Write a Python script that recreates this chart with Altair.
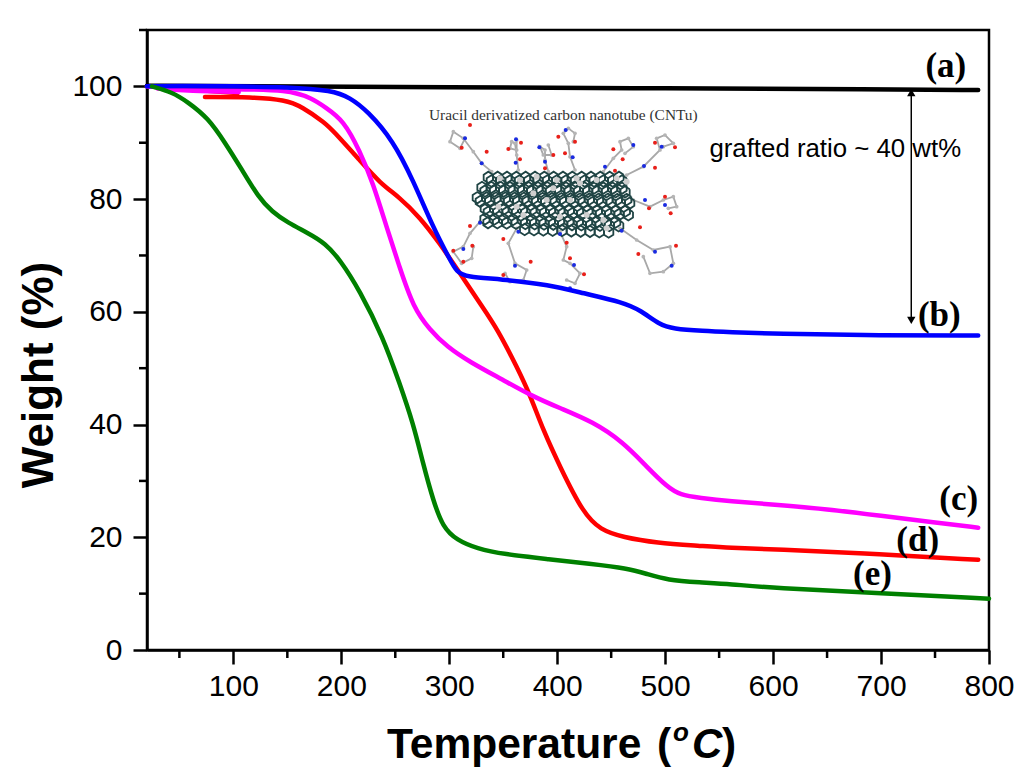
import altair as alt
import pandas as pd

# ---- curve data (Temperature, Weight) ----
a_t = [20, 100, 300, 500, 700, 790]
a_w = [100.1, 100.05, 99.85, 99.65, 99.45, 99.35]
b_t = [20, 50, 100, 150, 192, 208, 224, 248, 266.6, 285, 300, 307, 316, 347, 393, 424, 461, 477, 495, 507, 535, 560, 600, 700, 790]
b_w = [100, 100.1, 100, 99.9, 99.3, 98, 95.7, 90.4, 83.3, 75, 69.5, 67, 66.2, 65.8, 64.8, 63.3, 61.7, 60.3, 57.7, 57, 56.6, 56.4, 56.1, 55.8, 55.8]
c_t = [20, 50, 100, 150.6, 172.8, 185, 202, 217, 229.5, 242, 254, 266.6, 282, 298, 319, 350, 375, 402.6, 433, 461, 483, 502, 514, 532, 560, 600, 650, 700, 750, 790]
c_w = [100, 99.6, 99.5, 99.4, 97.9, 96.3, 94, 88.6, 82.8, 75, 67.9, 60.8, 56.8, 53.8, 51.1, 47.9, 45.2, 42.9, 40.5, 36.9, 32.5, 28.9, 27.5, 27, 26.4, 25.8, 25, 23.8, 22.6, 21.7]
c0_t = [30, 60, 105]
c0_w = [99.6, 99.2, 99]
d_t = [73.7, 117, 148, 163.6, 185, 192, 217, 236, 254, 272.6, 291, 310, 331, 345, 362.7, 375, 387, 402.6, 424, 440, 461, 492, 532, 560, 600, 700, 790]
d_w = [98.1, 98.1, 97.6, 96.4, 93.5, 92.2, 86.9, 82.8, 80.3, 76.8, 72.2, 66.8, 60.8, 56.8, 50.2, 45.2, 39, 32.5, 24.3, 21.3, 20, 19, 18.5, 18.1, 17.9, 17, 16]
d0_t = [20, 60, 104]
d0_w = [100, 99.5, 98.8]
e_t = [24.6, 43, 58, 76.5, 92, 108, 123, 136, 150.6, 169, 185, 199, 217, 238.6, 254, 266.6, 275.7, 285, 294, 307, 325.7, 350, 393, 430, 465, 483, 502, 532, 560, 600, 700, 800]
e_w = [100, 99, 97.2, 94.4, 90.1, 85.2, 80.4, 77.7, 75.8, 74, 72.2, 69.2, 63.8, 55.5, 47.3, 40.2, 33.1, 26.6, 21.8, 19.5, 18, 17, 16.1, 15.3, 14.5, 13.5, 12.4, 12, 11.7, 11, 10.1, 9.1]

series = [("d0", d0_t, d0_w, "#ff0000"), ("d", d_t, d_w, "#ff0000"), ("c0", c0_t, c0_w, "#ff00ff"),
          ("c", c_t, c_w, "#ff00ff"), ("a", a_t, a_w, "#000000"), ("b", b_t, b_w, "#0000ff"),
          ("e", e_t, e_w, "#008000")]

x_major = [100, 200, 300, 400, 500, 600, 700, 800]
x_minor = [50, 150, 250, 350, 450, 550, 650, 750]
y_major = [0, 20, 40, 60, 80, 100]
y_minor = [10, 30, 50, 70, 90, 110]

# ---- geometry of the data space ----
W, H = 842, 620
xdom, ydom = [20, 800], [0, 110]
xs = alt.Scale(domain=xdom, nice=False, zero=False)
ys = alt.Scale(domain=ydom, nice=False, zero=False)

# inset is sketched in reference-zoom units and converted to data units
def T(zx):
    return ((420 + zx / 3) - 147) / W * 780 + 20
def Y(zy):
    return (650 - (100 + zy / 3)) / H * 110

chains = [
    [(215,215),(185,190),(160,155),(130,115),(100,95),(90,125),(120,145),(135,115)],
    [(295,210),(290,165),(285,130),(275,125),(270,145),(290,150),(290,120)],
    [(385,215),(375,180),(375,150),(360,140),(370,165),(395,165),(385,135)],
    [(465,210),(450,170),(445,130),(430,100),(445,85),(465,100),(460,125)],
    [(550,215),(580,175),(605,150),(600,125),(625,115),(640,140),(615,160)],
    [(620,225),(670,200),(720,150),(710,115),(735,105),(760,130),(730,140)],
    [(640,300),(690,320),(730,300),(760,290),(770,320),(745,325)],
    [(600,385),(650,420),(700,450),(750,440),(760,490),(730,515),(690,520),(670,470)],
    [(420,395),(440,440),(430,480),(450,490),(480,520),(465,550),(440,540)],
    [(290,385),(265,430),(285,490),(320,510),(310,540),(270,545),(255,520)],
    [(180,365),(150,400),(130,440),(100,455),(125,490),(155,475),(160,440)],
]
red_atoms = [(150,75),(125,143),(200,155),(265,147),(303,128),(300,178),(400,165),(375,205),(415,110),(465,125),
             (435,160),(580,148),(608,178),(585,212),(705,128),(765,142),(705,203),(687,325),(735,290),(752,340),
             (660,382),(655,462),(768,437),(440,428),(450,475),(492,523),(250,417),(332,485),(250,525),(150,378),
             (100,452),(157,437),(130,485)]
blue_atoms = [(185,190),(135,115),(288,118),(287,188),(358,142),(375,185),(437,90),(458,172),(555,200),(640,135),
              (672,198),(725,140),(675,300),(735,315),(605,392),(705,455),(755,497),(420,402),(462,495),(450,565),
              (295,395),(285,497),(180,368),(130,447)]

# nanotube wall: two hand-placed overlapping patches of cells (illustration only)
hex_shape = [(14,-8),(14,8),(0,17),(-14,8),(-14,-8),(0,-17),(14,-8)]
tube_rows = [(232, 205, 610), (262, 172, 625), (293, 172, 630), (325, 182, 625), (356, 195, 600), (384, 300, 590)]
hex_rows = []
k = 0
for shift in (0, 1):
    for r, (zy, z0, z1) in enumerate(tube_rows):
        if shift and r == 5:
            continue
        zx = z0 + (14 if r % 2 else 0) + 9 * shift
        while zx <= z1:
            tilt = (zx - 165) * 0.03 * (r / 5) + 11 * shift
            hex_rows += [{"id": k, "o": i, "T": T(zx + dx), "W": Y(zy + tilt + dy)} for i, (dx, dy) in enumerate(hex_shape)]
            k += 1
            zx += 28
hex_df = pd.DataFrame(hex_rows)
light_df = pd.DataFrame([{"T": T(zx), "W": Y(zy)} for zx, zy in
    [(240,235),(300,240),(350,230),(410,240),(470,235),(530,240),(590,235),(290,320),(400,265),(420,350),
     (500,345),(550,360),(310,345),(235,320),(480,250),(380,300),(560,385),(620,245),(340,280),(450,300)]])

chain_rows = []
for i, ch in enumerate(chains):
    chain_rows += [{"id": i, "o": j, "T": T(x), "W": Y(y)} for j, (x, y) in enumerate(ch)]
chain_df = pd.DataFrame(chain_rows)

def axis(values, pad):
    return alt.Axis(values=values, tickSize=14, tickWidth=2.5, tickColor="black", domainColor="black", domainWidth=2.5,
                    labelFontSize=30, labelFont="Liberation Sans", labelColor="black", labelPadding=pad, grid=False,
                    format="d", labelFlush=False, labelOverlap=False)

X = alt.X("T:Q", scale=xs, title=None, axis=axis(x_major, 7))
Yc = alt.Y("W:Q", scale=ys, title=None, axis=axis(y_major, 11))

layers = []
layers.append(alt.Chart(chain_df).mark_line(color="#a8a8a8", strokeWidth=1.8).encode(X, Yc, detail="id:N", order="o:Q"))
layers.append(alt.Chart(chain_df).mark_circle(color="#b5b5b5", opacity=1, size=14).encode(X, Yc))
layers.append(alt.Chart(hex_df).mark_line(color="#1f4444", strokeWidth=1.8).encode(X, Yc, detail="id:N", order="o:Q"))
layers.append(alt.Chart(light_df).mark_circle(color="#cfcfcf", opacity=1, size=36).encode(X, Yc))
layers.append(alt.Chart(pd.DataFrame([{"T": T(x), "W": Y(y)} for x, y in red_atoms])).mark_circle(color="#e8201a", opacity=1, size=16).encode(X, Yc))
layers.append(alt.Chart(pd.DataFrame([{"T": T(x), "W": Y(y)} for x, y in blue_atoms])).mark_circle(color="#1a2be0", opacity=1, size=16).encode(X, Yc))

# minor ticks
layers.append(alt.Chart(pd.DataFrame({"T": x_minor})).mark_rule(color="black", strokeWidth=2.5).encode(
    X, y=alt.value(H), y2=alt.value(H + 8)))
layers.append(alt.Chart(pd.DataFrame({"W": y_minor})).mark_rule(color="black", strokeWidth=2.5).encode(
    Yc, x=alt.value(0), x2=alt.value(-8)))

# curves
for name, t, w, col in series:
    layers.append(alt.Chart(pd.DataFrame({"T": t, "W": w})).mark_line(
        color=col, strokeWidth=4.5, interpolate="basis", strokeCap="round").encode(X, Yc))

# double arrow
arrow_t, arrow_top, arrow_bot = 728, 98.9, 58.5
layers.append(alt.Chart(pd.DataFrame({"T": [arrow_t], "W": [arrow_top], "W2": [arrow_bot]})).mark_rule(color="black", strokeWidth=1.5).encode(
    X, Yc, y2="W2:Q"))
layers.append(alt.Chart(pd.DataFrame({"T": [arrow_t], "W": [arrow_top]})).mark_point(shape="triangle-up", filled=True, color="black", size=70, opacity=1).encode(X, Yc))
layers.append(alt.Chart(pd.DataFrame({"T": [arrow_t], "W": [arrow_bot]})).mark_point(shape="triangle-down", filled=True, color="black", size=70, opacity=1).encode(X, Yc))

# letter labels
lab = ["(a)", "(b)", "(c)", "(d)", "(e)"]
lab_t = [760, 754, 772, 734, 692]
lab_w = [103.7, 59.5, 26.8, 19.5, 13.5]
layers.append(alt.Chart(pd.DataFrame({"T": lab_t, "W": lab_w, "s": lab})).mark_text(
    font="Liberation Serif", fontWeight="bold", fontSize=35, color="black").encode(X, Yc, text="s:N"))

layers.append(alt.Chart(pd.DataFrame({"T": [T(0)], "W": [Y(45)], "s": ["Uracil derivatized carbon nanotube (CNTu)"]})).mark_text(
    font="Liberation Serif", fontSize=15.4, color="#333333", align="left", dx=9).encode(X, Yc, text="s:N"))
layers.append(alt.Chart(pd.DataFrame({"T": [541], "W": [88.8], "s": ["grafted ratio ~ 40 wt%"]})).mark_text(
    font="Liberation Sans", fontSize=25.8, color="black", align="left").encode(X, Yc, text="s:N"))

# axis titles as real text (with italic superscript)
title_parts = [("Temperature", 240, 95, "normal", 42.5, "bold"), ("(", 510, 95, "normal", 42.5, "bold"),
               ("o", 526, 83, "italic", 26, "bold"), ("C", 545, 95, "italic", 42, "bold"),
               (")", 575, 95, "normal", 42.5, "bold")]
for s, px, dy, st, fs, fw in title_parts:
    layers.append(alt.Chart(pd.DataFrame({"s": [s]})).mark_text(
        font="Liberation Sans", fontSize=fs, fontWeight=fw, fontStyle=st, color="black", align="left", baseline="middle").encode(
        x=alt.value(px), y=alt.value(H + dy), text="s:N"))
layers.append(alt.Chart(pd.DataFrame({"s": ["Weight (%)"]})).mark_text(
    font="Liberation Sans", fontSize=44, fontWeight="bold", color="black", angle=270, align="center", baseline="middle").encode(
    x=alt.value(-107), y=alt.value(345), text="s:N"))

chart = alt.layer(*layers).properties(
    width=W, height=H, autosize=alt.AutoSizeParams(type="none"),
    padding={"left": 139, "top": 22, "right": 27, "bottom": 122},
    background="white",
).configure_view(stroke="black", strokeWidth=2.5)

chart.save("out.html", embed_options={"renderer": "svg", "actions": False})
